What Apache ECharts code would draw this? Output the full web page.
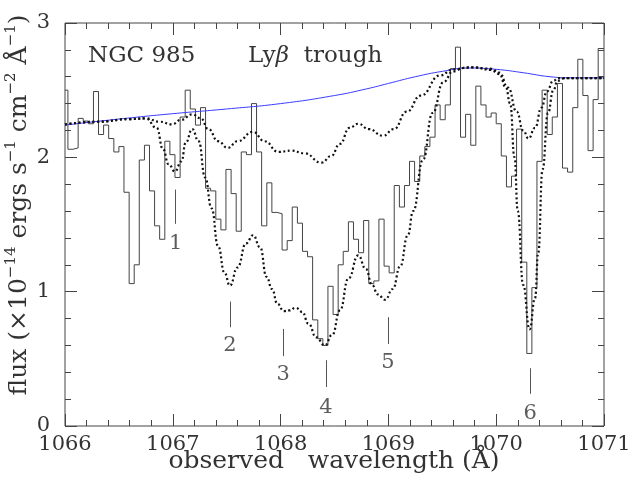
<!DOCTYPE html>
<html>
<head>
<meta charset="utf-8">
<script src="https://cdn.jsdelivr.net/npm/echarts@6/dist/echarts.min.js"></script>
<style>
  html, body { margin: 0; padding: 0; background: #fff; }
  #main { width: 642px; height: 480px; }
</style>
</head>
<body>
<div id="main"></div>
<script>
// observed spectrum: left edge of each bin (A) and flux in that bin
var histEdges = [1066.000,
  1066.027, 1066.074, 1066.122, 1066.169, 1066.216, 1066.264, 1066.311, 1066.358, 1066.405, 1066.453,
  1066.500, 1066.547, 1066.595, 1066.642, 1066.689, 1066.737, 1066.784, 1066.831, 1066.878, 1066.926,
  1066.973, 1067.020, 1067.068, 1067.115, 1067.162, 1067.210, 1067.257, 1067.304, 1067.351, 1067.399,
  1067.446, 1067.493, 1067.541, 1067.588, 1067.635, 1067.683, 1067.730, 1067.777, 1067.824, 1067.872,
  1067.919, 1067.966, 1068.014, 1068.061, 1068.108, 1068.156, 1068.203, 1068.250, 1068.297, 1068.345,
  1068.392, 1068.439, 1068.487, 1068.534, 1068.581, 1068.629, 1068.676, 1068.723, 1068.770, 1068.818,
  1068.865, 1068.912, 1068.960, 1069.007, 1069.054, 1069.102, 1069.149, 1069.196, 1069.243, 1069.291,
  1069.338, 1069.385, 1069.433, 1069.480, 1069.527, 1069.575, 1069.622, 1069.669, 1069.716, 1069.764,
  1069.811, 1069.858, 1069.906, 1069.953, 1070.000, 1070.047, 1070.095, 1070.142, 1070.189, 1070.237,
  1070.284, 1070.331, 1070.378, 1070.426, 1070.473, 1070.520, 1070.568, 1070.615, 1070.662, 1070.710,
  1070.757, 1070.804, 1070.852, 1070.899, 1070.946];
var histFlux = [2.50,
  2.06, 2.07, 2.29, 2.27, 2.25, 2.49, 2.17, 2.24, 2.14, 2.04,
  2.08, 1.74, 1.06, 1.20, 1.98, 2.09, 1.75, 1.49, 1.39, 2.12,
  2.02, 1.85, 2.30, 2.50, 2.36, 2.24, 2.37, 1.77, 1.75, 1.54,
  1.46, 1.91, 1.73, 1.45, 2.04, 2.02, 2.40, 2.04, 1.49, 1.81,
  1.59, 1.58, 1.31, 1.38, 1.63, 1.51, 1.30, 1.26, 0.79, 0.65,
  0.60, 1.04, 0.83, 1.20, 1.30, 1.52, 1.39, 1.29, 1.53, 1.06,
  1.08, 1.54, 1.19, 1.14, 1.79, 1.63, 1.79, 1.97, 1.82, 2.01,
  2.08, 2.15, 2.39, 2.28, 2.39, 2.66, 2.82, 2.15, 2.32, 2.09,
  2.53, 2.39, 2.30, 2.33, 2.25, 2.01, 1.78, 1.86, 2.21, 1.22,
  0.54, 1.03, 1.97, 2.50, 2.17, 2.30, 2.55, 1.92, 1.89, 2.37,
  2.73, 2.46, 2.05, 2.43, 2.81];
var waveEnd = 1071.0;

// fitted continuum (blue)
var contWave = [1066.0, 1066.5, 1067.0, 1067.5, 1068.0, 1068.5, 1068.8, 1069.0, 1069.25, 1069.5, 1069.75, 1070.0, 1070.25, 1070.5, 1070.7, 1071.0];
var contFlux = [2.24, 2.285, 2.325, 2.36, 2.40, 2.46, 2.51, 2.55, 2.60, 2.64, 2.665, 2.655, 2.63, 2.60, 2.592, 2.592];

// shallow model (dotted)
var modelAWave = [1066.0, 1066.3, 1066.6, 1066.75, 1066.88, 1066.99, 1067.08, 1067.18, 1067.26, 1067.33, 1067.42, 1067.51, 1067.60, 1067.745, 1067.85, 1067.98, 1068.10, 1068.22, 1068.38, 1068.47, 1068.55, 1068.64, 1068.72, 1068.82, 1068.95, 1069.05, 1069.17, 1069.30, 1069.48, 1069.60, 1069.75, 1069.95, 1070.03, 1070.11, 1070.19, 1070.25, 1070.30, 1070.36, 1070.42, 1070.47, 1070.53, 1070.58, 1071.0];
var modelAFlux = [2.245, 2.265, 2.285, 2.29, 2.265, 2.245, 2.28, 2.32, 2.29, 2.21, 2.12, 2.07, 2.12, 2.19, 2.12, 2.04, 2.05, 2.03, 1.96, 2.01, 2.10, 2.22, 2.25, 2.21, 2.16, 2.21, 2.34, 2.46, 2.61, 2.655, 2.67, 2.66, 2.63, 2.52, 2.34, 2.20, 2.14, 2.22, 2.37, 2.49, 2.57, 2.59, 2.59];

// deep model (dotted)
var modelBWave = [1066.0, 1066.3, 1066.6, 1066.75, 1066.85, 1066.91, 1066.96, 1067.02, 1067.08, 1067.12, 1067.18, 1067.24, 1067.30, 1067.36, 1067.42, 1067.48, 1067.53, 1067.60, 1067.68, 1067.745, 1067.81, 1067.87, 1067.92, 1067.97, 1068.03, 1068.08, 1068.14, 1068.20, 1068.26, 1068.33, 1068.41, 1068.48, 1068.55, 1068.63, 1068.72, 1068.79, 1068.85, 1068.90, 1068.97, 1069.04, 1069.11, 1069.18, 1069.23, 1069.32, 1069.41, 1069.51, 1069.60, 1069.70, 1069.80, 1069.95, 1070.03, 1070.09, 1070.13, 1070.17, 1070.20, 1070.25, 1070.31, 1070.36, 1070.39, 1070.43, 1070.48, 1070.53, 1070.57, 1070.64, 1071.0];
var modelBFlux = [2.245, 2.265, 2.285, 2.29, 2.22, 2.06, 1.95, 1.895, 1.97, 2.11, 2.21, 2.12, 1.85, 1.62, 1.34, 1.14, 1.045, 1.18, 1.36, 1.42, 1.33, 1.11, 1.02, 0.91, 0.855, 0.86, 0.88, 0.85, 0.76, 0.66, 0.60, 0.68, 0.86, 1.10, 1.27, 1.17, 1.05, 0.98, 0.94, 1.02, 1.19, 1.42, 1.60, 1.98, 2.33, 2.56, 2.64, 2.665, 2.67, 2.65, 2.62, 2.52, 2.40, 2.00, 1.60, 1.05, 0.72, 0.95, 1.29, 1.91, 2.33, 2.50, 2.57, 2.59, 2.59];

// absorption components
var featureNames = ['1', '2', '3', '4', '5', '6'];
var featureWave = [1067.027, 1067.53, 1068.025, 1068.42, 1068.996, 1070.316];
var featureTickTop = [1.76, 0.926, 0.723, 0.49, 0.81, 0.43];
var featureTickBottom = [1.505, 0.735, 0.52, 0.29, 0.61, 0.24];
var featureLabelY = [1.356, 0.596, 0.38, 0.14, 0.47, 0.09];

var FONT = '"DejaVu Serif", "Liberation Serif", serif';
var INK = '#333';
var AXIS = '#444';
var X_MIN = 1066, X_MAX = 1071, Y_MIN = 0, Y_MAX = 3;

function pairs(xs, ys) {
  return xs.map(function (x, i) { return [x, ys[i]]; });
}

var histData = pairs(histEdges, histFlux);
histData.push([waveEnd, histFlux[histFlux.length - 1]]);

// inside ticks: thin helper grids sit just outside each frame edge,
// their axes lie on the edge and tick outward, i.e. into the plot
function tickAxis(gridIndex, position, min, max, interval, len) {
  return {
    type: 'value', gridIndex: gridIndex, position: position,
    min: min, max: max, interval: interval,
    axisLine: { show: false, onZero: false },
    axisTick: { show: true, inside: false, length: len, lineStyle: { color: AXIS, width: 1 } },
    axisLabel: { show: false },
    splitLine: { show: false }
  };
}
function hiddenAxis(gridIndex) {
  return { type: 'value', gridIndex: gridIndex, show: false, min: 0, max: 1 };
}

var chart = echarts.init(document.getElementById('main'), null, { renderer: 'canvas' });

chart.setOption({
  animation: false,
  backgroundColor: '#fff',
  grid: [
    { left: 65, right: 38, top: 23, bottom: 54, show: true, borderColor: AXIS, borderWidth: 1, backgroundColor: 'transparent' },
    { left: 65, right: 38, top: 426, height: 10 },  // bottom edge
    { left: 65, right: 38, top: 13, height: 10 },   // top edge
    { left: 55, width: 10, top: 23, bottom: 54 },   // left edge
    { left: 604, width: 10, top: 23, bottom: 54 }   // right edge
  ],
  xAxis: [
    {
      type: 'value', gridIndex: 0, position: 'bottom', min: X_MIN, max: X_MAX, interval: 1,
      axisLine: { show: false, onZero: false },
      axisTick: { show: false },
      splitLine: { show: false },
      axisLabel: {
        show: true, margin: 8, fontFamily: FONT, fontSize: 21, color: INK, showMinLabel: true, showMaxLabel: true,
        formatter: function (v) { return String(v); }
      }
    },
    tickAxis(1, 'top', X_MIN, X_MAX, 1, 12),
    tickAxis(1, 'top', X_MIN, X_MAX, 0.2, 6),
    tickAxis(2, 'bottom', X_MIN, X_MAX, 1, 12),
    tickAxis(2, 'bottom', X_MIN, X_MAX, 0.2, 6),
    hiddenAxis(3),
    hiddenAxis(4)
  ],
  yAxis: [
    {
      type: 'value', gridIndex: 0, position: 'left', min: Y_MIN, max: Y_MAX, interval: 1,
      axisLine: { show: false, onZero: false },
      axisTick: { show: false },
      splitLine: { show: false },
      axisLabel: { show: true, margin: 15, fontFamily: FONT, fontSize: 21, color: INK, showMinLabel: true, showMaxLabel: true }
    },
    hiddenAxis(1),
    hiddenAxis(2),
    tickAxis(3, 'right', Y_MIN, Y_MAX, 1, 12),
    tickAxis(3, 'right', Y_MIN, Y_MAX, 0.2, 6),
    tickAxis(4, 'left', Y_MIN, Y_MAX, 1, 12),
    tickAxis(4, 'left', Y_MIN, Y_MAX, 0.2, 6)
  ],
  graphic: [
    { type: 'text', left: 88, top: 45, style: { text: 'NGC 985', font: '23px ' + FONT, fill: INK } },
    {
      type: 'text', left: 248, top: 45,
      style: {
        text: 'Ly{it|β}  trough', font: '23px ' + FONT, fill: INK,
        rich: { it: { fontStyle: 'italic', fontFamily: FONT, fontSize: 23, fill: INK } }
      }
    },
    {
      type: 'text', x: 334, y: 461,
      style: { text: 'observed   wavelength (Å)', font: '25px ' + FONT, fill: INK, align: 'center', verticalAlign: 'middle' }
    },
    {
      type: 'text', x: 19, y: 205, rotation: Math.PI / 2,
      style: {
        text: 'flux (×10{s|−14} ergs s{s|−1} cm{s|−2} Å{s|−1})', font: '25px ' + FONT, fill: INK,
        align: 'center', verticalAlign: 'middle', lineHeight: 30,
        rich: { s: { fontFamily: FONT, fontSize: 15, fill: INK, lineHeight: 16, verticalAlign: 'top' } }
      }
    }
  ],
  series: [
    {
      name: 'spectrum', type: 'line', step: 'end', symbol: 'none', z: 2,
      data: histData,
      lineStyle: { color: '#444', width: 1 }
    },
    {
      name: 'continuum', type: 'line', smooth: true, symbol: 'none', z: 3,
      data: pairs(contWave, contFlux),
      lineStyle: { color: '#3b3bff', width: 1 }
    },
    {
      name: 'model A', type: 'line', smooth: 0.5, smoothMonotone: 'x', symbol: 'none', z: 4,
      data: pairs(modelAWave, modelAFlux),
      lineStyle: { color: '#111', width: 2.2, type: [2, 2.6] }
    },
    {
      name: 'model B', type: 'line', smooth: 0.5, smoothMonotone: 'x', symbol: 'none', z: 4,
      data: pairs(modelBWave, modelBFlux),
      lineStyle: { color: '#111', width: 2.2, type: [2, 2.6] }
    },
    {
      name: 'components', type: 'scatter', symbolSize: 1, z: 5,
      itemStyle: { color: 'rgba(0,0,0,0)' },
      data: featureWave.map(function (w, i) {
        return { name: featureNames[i], value: [w, featureLabelY[i]] };
      }),
      label: { show: true, position: 'inside', formatter: '{b}', fontFamily: FONT, fontSize: 21, color: INK },
      markLine: {
        silent: true, symbol: ['none', 'none'], label: { show: false },
        lineStyle: { color: '#555', width: 1, type: 'solid' },
        data: featureWave.map(function (w, i) {
          return [{ coord: [w, featureTickTop[i]] }, { coord: [w, featureTickBottom[i]] }];
        })
      }
    }
  ]
});
</script>
</body>
</html>
